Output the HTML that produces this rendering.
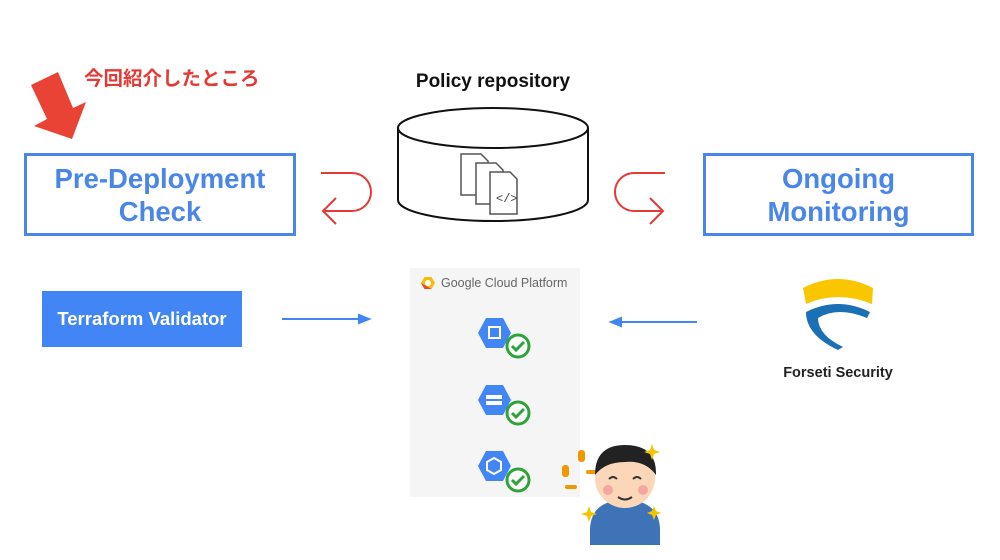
<!DOCTYPE html>
<html><head><meta charset="utf-8"><style>
body{margin:0;width:1000px;height:560px;background:#fff;position:relative;overflow:hidden;font-family:"Liberation Sans","Noto Sans CJK JP",sans-serif}
.a{position:absolute}
.box{position:absolute;border:3px solid #4a86e8;box-sizing:border-box;color:#4a86e8;font-weight:bold;font-size:27.5px;text-align:center;line-height:33px;display:flex;align-items:center;justify-content:center}
</style></head><body>
<div class="a" style="left:84px;top:62px;color:#e53935;font-weight:bold;font-size:19.5px;font-family:'Noto Sans CJK JP',sans-serif">今回紹介したところ</div>
<div class="a" style="left:393px;top:71px;width:200px;text-align:center;font-weight:bold;font-size:19px;color:#111">Policy repository</div>
<div class="box" style="left:24px;top:153px;width:272px;height:83px">Pre-Deployment<br>Check</div>
<div class="box" style="left:703px;top:153px;width:271px;height:83px">Ongoing<br>Monitoring</div>
<div class="a" style="left:42px;top:291px;width:200px;height:56px;background:#4285f4;color:#fff;font-weight:bold;font-size:18.5px;line-height:56px;text-align:center">Terraform Validator</div>
<div class="a" style="left:410px;top:268px;width:170px;height:229px;background:#f5f5f5"></div>
<div class="a" style="left:441px;top:276px;font-size:12.5px;color:#666">Google Cloud Platform</div>
<div class="a" style="left:760px;top:365px;width:156px;text-align:center;font-weight:bold;font-size:14.5px;color:#222">Forseti Security</div>
<svg class="a" style="left:0;top:0" width="1000" height="560">
<polygon points="31,85 58,72 73,108 86,102 72,139 34,126 47,119" fill="#e84335"/>
<g fill="none" stroke="#e53935" stroke-width="2">
<path d="M321,173 H352 A19,19 0 0 1 352,211 H323 M336,198 L323,211 L336,224"/>
<path d="M665,173 H634 A19,19 0 0 0 634,211 H663 M650,198 L663,211 L650,224"/>
</g>
<g stroke="#111" stroke-width="2" fill="#fff">
<path d="M398,128 V200 A95,21 0 0 0 588,200 V128"/>
<ellipse cx="493" cy="128" rx="95" ry="20"/>
</g>
<g stroke="#555" stroke-width="1.5" fill="#fff">
<path d="M461,154 h20 l7,7 v34 h-27z"/><path d="M476,163 h20 l7,7 v34 h-27z"/><path d="M490,172 h20 l7,7 v35 h-27z"/>
</g>
<text x="496" y="202" font-size="12" fill="#444" font-family="Liberation Mono">&lt;/&gt;</text>
<g stroke="#4285f4" stroke-width="2" fill="#4285f4">
<line x1="282" y1="319" x2="362" y2="319"/><polygon points="369,319 359,315 359,323"/>
<line x1="697" y1="322" x2="619" y2="322"/><polygon points="611,322 621,318 621,326"/>
</g>
<g transform="translate(428,283)"><polygon points="-7,0 -3.5,-6 3.5,-6 7,0 3.5,6 -3.5,6" fill="#fbbc05"/><polygon points="-7,0 -3.5,6 3.5,6" fill="#ea4335"/><circle r="3" fill="#fff"/></g>
<polygon points="478,333 486,318 503,318 511,333 503,348 486,348" fill="#4285f4"/>
<polygon points="478,400 486,385 503,385 511,400 503,415 486,415" fill="#4285f4"/>
<polygon points="478,466 486,451 503,451 511,466 503,481 486,481" fill="#4285f4"/>
<rect x="489" y="327" width="11" height="11" fill="none" stroke="#fff" stroke-width="2"/>
<rect x="486" y="395" width="16" height="4" fill="#fff"/><rect x="486" y="401" width="16" height="4" fill="#fff"/>
<polygon points="494,458 501,462 501,470 494,474 487,470 487,462" fill="none" stroke="#fff" stroke-width="2"/>
<g fill="#fff" stroke="#2ea33a" stroke-width="3">
<circle cx="518" cy="346" r="11"/><circle cx="518" cy="413" r="11"/><circle cx="518" cy="480" r="11"/>
</g>
<g fill="none" stroke="#2ea33a" stroke-width="3">
<path d="M512,346 l4,4 l8,-8"/><path d="M512,413 l4,4 l8,-8"/><path d="M512,480 l4,4 l8,-8"/>
</g>
<path d="M803,288 Q838,270 873,288 L872,304 Q838,290 806,304 Z" fill="#f9c600"/>
<path d="M806,312 Q838,296 870,312 L867,318 Q838,306 818,318 Q818,335 843,347 L838,350 Q806,335 806,312Z" fill="#1a6fb5"/>
<g fill="#f29700"><rect x="578" y="450" width="7" height="12" rx="3"/><rect x="562" y="465" width="7" height="12" rx="3"/><rect x="565" y="485" width="12" height="4" rx="2"/><rect x="586" y="470" width="10" height="4" rx="2"/></g>
<path d="M590,528 Q592,500 625,500 Q658,500 660,528 V545 H590Z" fill="#3f73b8"/>
<circle cx="625" cy="478" r="30" fill="#fbd6b8"/>
<path d="M595,475 Q595,445 625,445 Q657,445 656,475 Q645,460 625,462 Q605,462 595,475Z" fill="#222"/>
<circle cx="608" cy="490" r="5" fill="#f6a6a0"/><circle cx="643" cy="490" r="5" fill="#f6a6a0"/>
<path d="M609,479 q4,-4 8,0 M633,479 q4,-4 8,0 M618,497 q7,5 14,0" fill="none" stroke="#333" stroke-width="2"/>
<g fill="#f5c400"><path d="M652,444 l2,6 6,2 -6,2 -2,6 -2,-6 -6,-2 6,-2z"/><path d="M589,506 l2,6 6,2 -6,2 -2,6 -2,-6 -6,-2 6,-2z"/><path d="M654,506 l2,5 5,2 -5,2 -2,5 -2,-5 -5,-2 5,-2z"/></g>
</svg>
</body></html>
